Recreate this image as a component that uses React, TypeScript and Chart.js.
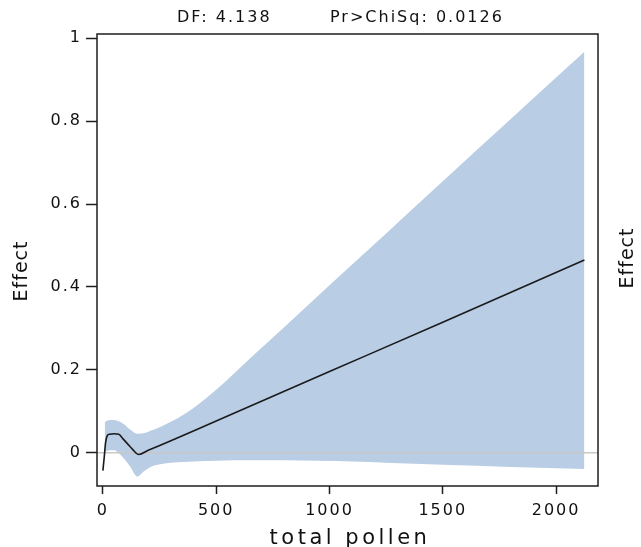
import { useEffect, useRef } from "react";
import { Chart, registerables } from "chart.js";

Chart.register(...registerables);

// ---- data ----
const curveX = [0, 6, 12, 20, 30, 50, 70, 90, 110, 130, 158, 200, 300, 500, 1000, 1500, 2125];
const curveY = [-0.043, -0.01, 0.025, 0.042, 0.045, 0.046, 0.045, 0.033, 0.021, 0.009, -0.004, 0.006, 0.029, 0.077, 0.196, 0.315, 0.465];

const bandX = [8, 20, 40, 60, 90, 120, 152, 180, 210, 260, 300, 355, 400, 500, 650, 800, 950, 1100, 1250, 1500, 1800, 2125];
const bandUpper = [0.074, 0.078, 0.079, 0.078, 0.07, 0.056, 0.046, 0.047, 0.053, 0.064, 0.075, 0.092, 0.108, 0.152, 0.228, 0.303, 0.379, 0.454, 0.529, 0.655, 0.805, 0.967];
const bandLower = [0.002, 0.005, 0.006, 0.004, -0.012, -0.033, -0.057, -0.045, -0.034, -0.027, -0.024, -0.022, -0.021, -0.019, -0.018, -0.018, -0.019, -0.021, -0.024, -0.029, -0.034, -0.039];

const xTicks = [0, 500, 1000, 1500, 2000];
const yTicks = [0, 0.2, 0.4, 0.6, 0.8, 1];
const X_MIN = -26;
const X_MAX = 2185;
const Y_MIN = -0.08;
const Y_MAX = 1.01;

const xTitle = "total pollen";
const yTitle = "Effect";
const dfLabel = "DF: 4.138";
const pLabel = "Pr>ChiSq: 0.0126";

const BAND = "rgb(185, 205, 229)";
const FONT = '"DejaVu Sans", sans-serif';

const decor = {
  id: "decor",
  beforeLayout(chart: any) {
    chart.ctx.letterSpacing = "2px";
  },
  beforeDraw(chart: any) {
    chart.ctx.letterSpacing = "2px";
  },
  afterDraw(chart: any) {
    const { ctx, chartArea: a } = chart;
    ctx.save();
    ctx.strokeStyle = "#1e1e1e";
    ctx.lineWidth = 1.5;
    ctx.strokeRect(a.left, a.top, a.right - a.left, a.bottom - a.top);

    ctx.fillStyle = "#111";
    ctx.textBaseline = "middle";
    ctx.textAlign = "left";
    ctx.font = `16px ${FONT}`;
    ctx.letterSpacing = "2px";
    ctx.fillText(dfLabel, 177, 18);
    ctx.fillText(pLabel, 330, 18);

    ctx.textAlign = "center";
    ctx.font = `21px ${FONT}`;
    ctx.letterSpacing = "3.5px";
    ctx.fillText(xTitle, 350, 539);

    ctx.font = `19px ${FONT}`;
    ctx.letterSpacing = "1px";
    ctx.save();
    ctx.translate(22, 271);
    ctx.rotate(-Math.PI / 2);
    ctx.fillText(yTitle, 0, 0);
    ctx.restore();
    ctx.save();
    ctx.translate(628, 258);
    ctx.rotate(-Math.PI / 2);
    ctx.fillText(yTitle, 0, 0);
    ctx.restore();
    ctx.restore();
  },
};

export default function App() {
  const ref = useRef<HTMLCanvasElement | null>(null);

  useEffect(() => {
    if (!ref.current) return;
    const chart = new Chart(ref.current, {
      type: "line",
      data: {
        datasets: [
          {
            data: curveX.map((x, i) => ({ x, y: curveY[i] })),
            borderColor: "#1a1a1a",
            borderWidth: 1.6,
            pointRadius: 0,
            fill: false,
            cubicInterpolationMode: "monotone",
          },
          {
            data: [
              { x: X_MIN, y: 0 },
              { x: X_MAX, y: 0 },
            ],
            borderColor: "#c8c8c8",
            borderWidth: 1.5,
            pointRadius: 0,
            fill: false,
          },
          {
            data: bandX.map((x, i) => ({ x, y: bandUpper[i] })),
            borderColor: "rgba(0,0,0,0)",
            borderWidth: 0,
            backgroundColor: BAND,
            pointRadius: 0,
            fill: "+1",
            cubicInterpolationMode: "monotone",
          },
          {
            data: bandX.map((x, i) => ({ x, y: bandLower[i] })),
            borderColor: "rgba(0,0,0,0)",
            borderWidth: 0,
            pointRadius: 0,
            fill: false,
            cubicInterpolationMode: "monotone",
          },
        ] as any,
      },
      options: {
        animation: false,
        responsive: true,
        maintainAspectRatio: false,
        events: [],
        layout: { padding: { top: 34, right: 43, left: 0, bottom: 0 } },
        plugins: { legend: { display: false }, tooltip: { enabled: false }, title: { display: false } },
        scales: {
          x: {
            type: "linear",
            min: X_MIN,
            max: X_MAX,
            afterBuildTicks: (s: any) => {
              s.ticks = xTicks.map((v) => ({ value: v }));
            },
            afterFit: (s: any) => {
              s.height = 61;
            },
            border: { display: false },
            grid: {
              display: true,
              drawOnChartArea: false,
              drawTicks: true,
              tickLength: 8,
              tickColor: "#1e1e1e",
              tickWidth: 1.5,
            },
            ticks: {
              padding: 7,
              color: "#111",
              maxRotation: 0,
              font: { family: FONT, size: 16 },
              callback: (v: any) => String(v),
            },
          },
          y: {
            type: "linear",
            min: Y_MIN,
            max: Y_MAX,
            afterBuildTicks: (s: any) => {
              s.ticks = yTicks.map((v) => ({ value: v }));
            },
            afterFit: (s: any) => {
              s.width = 97;
            },
            border: { display: false },
            grid: {
              display: true,
              drawOnChartArea: false,
              drawTicks: true,
              tickLength: 11,
              tickColor: "#1e1e1e",
              tickWidth: 1.5,
            },
            ticks: {
              padding: 4,
              color: "#111",
              font: { family: FONT, size: 16 },
              callback: (v: any) => String(v),
            },
          },
        },
      } as any,
      plugins: [decor],
    });
    return () => chart.destroy();
  }, []);

  return (
    <div style={{ position: "fixed", left: 0, top: 0, width: 641, height: 547, background: "#fff" }}>
      <canvas ref={ref} />
    </div>
  );
}
